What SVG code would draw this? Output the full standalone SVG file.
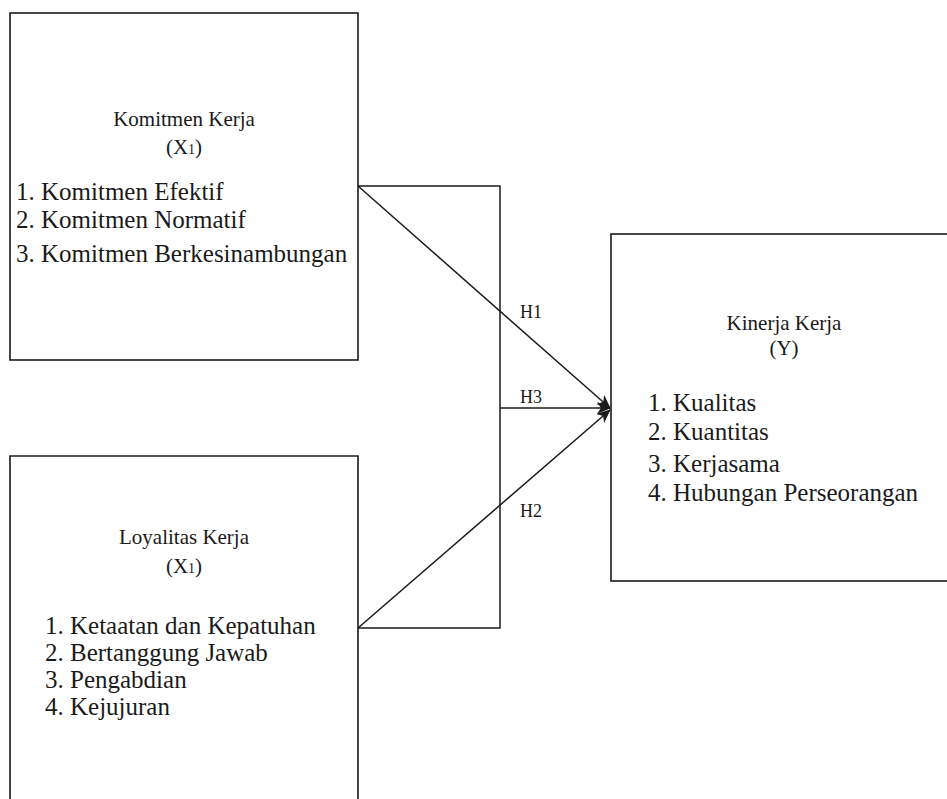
<svg xmlns="http://www.w3.org/2000/svg" width="947" height="799" viewBox="0 0 947 799">
<style>
.box{fill:#fff;stroke:#1a1a1a;stroke-width:1.6}
.ln{fill:none;stroke:#1a1a1a;stroke-width:1.5}
</style>
<defs>
<marker id="arr" viewBox="0 0 14 12" refX="13" refY="6" markerWidth="14" markerHeight="12" markerUnits="userSpaceOnUse" orient="auto">
<path d="M0,0 L14,6 L0,12 L4,6 z" fill="#1a1a1a"/>
</marker>
</defs>
<rect width="947" height="799" fill="#fff"/>
<g id="komitmen">
<rect class="box" x="10" y="13" width="348" height="347"/>
<text x="184" y="126" font-size="21" font-family="Liberation Serif" text-anchor="middle" fill="#1a1a1a">Komitmen Kerja</text>
<text x="184" y="154" font-size="21" font-family="Liberation Serif" text-anchor="middle" fill="#1a1a1a">(X<tspan font-size="14">1</tspan>)</text>
<text x="16" y="200" font-size="25" font-family="Liberation Serif" fill="#1a1a1a">1. Komitmen Efektif</text>
<text x="16" y="228" font-size="25" font-family="Liberation Serif" fill="#1a1a1a">2. Komitmen Normatif</text>
<text x="16" y="262" font-size="25" font-family="Liberation Serif" fill="#1a1a1a">3. Komitmen Berkesinambungan</text>
</g>
<g id="loyalitas">
<path class="box" d="M10,805 L10,456 L358,456 L358,805"/>
<text x="184" y="544" font-size="21" font-family="Liberation Serif" text-anchor="middle" fill="#1a1a1a">Loyalitas Kerja</text>
<text x="184" y="573" font-size="21" font-family="Liberation Serif" text-anchor="middle" fill="#1a1a1a">(X<tspan font-size="14">1</tspan>)</text>
<text x="45" y="634" font-size="25" font-family="Liberation Serif" fill="#1a1a1a">1. Ketaatan dan Kepatuhan</text>
<text x="45" y="661" font-size="25" font-family="Liberation Serif" fill="#1a1a1a">2. Bertanggung Jawab</text>
<text x="45" y="688" font-size="25" font-family="Liberation Serif" fill="#1a1a1a">3. Pengabdian</text>
<text x="45" y="715" font-size="25" font-family="Liberation Serif" fill="#1a1a1a">4. Kejujuran</text>
</g>
<g id="kinerja">
<rect class="box" x="611" y="234" width="345" height="347"/>
<text x="784" y="330" font-size="21" font-family="Liberation Serif" text-anchor="middle" fill="#1a1a1a">Kinerja Kerja</text>
<text x="784" y="355" font-size="21" font-family="Liberation Serif" text-anchor="middle" fill="#1a1a1a">(Y)</text>
<text x="648" y="411" font-size="25" font-family="Liberation Serif" fill="#1a1a1a">1. Kualitas</text>
<text x="648" y="440" font-size="25" font-family="Liberation Serif" fill="#1a1a1a">2. Kuantitas</text>
<text x="648" y="472" font-size="25" font-family="Liberation Serif" fill="#1a1a1a">3. Kerjasama</text>
<text x="648" y="501" font-size="25" font-family="Liberation Serif" fill="#1a1a1a">4. Hubungan Perseorangan</text>
</g>
<g id="connectors">
<polyline class="ln" points="358,186 500,186 500,628 358,628"/>
<line class="ln" x1="358" y1="186" x2="610" y2="408" marker-end="url(#arr)"/>
<line class="ln" x1="500" y1="408" x2="610" y2="408" marker-end="url(#arr)"/>
<line class="ln" x1="358" y1="628" x2="610" y2="410" marker-end="url(#arr)"/>
<text x="520" y="318" font-size="18" font-family="Liberation Serif" fill="#1a1a1a">H1</text>
<text x="520" y="403" font-size="18" font-family="Liberation Serif" fill="#1a1a1a">H3</text>
<text x="520" y="517" font-size="18" font-family="Liberation Serif" fill="#1a1a1a">H2</text>
</g>
</svg>
